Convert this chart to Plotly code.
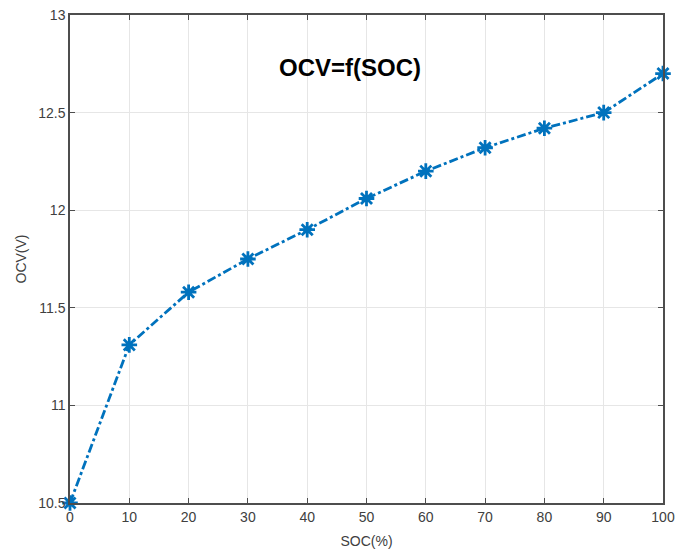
import plotly.graph_objects as go

soc = [0, 10, 20, 30, 40, 50, 60, 70, 80, 90, 100]
ocv = [10.5, 11.31, 11.58, 11.75, 11.90, 12.06, 12.20, 12.32, 12.42, 12.50, 12.70]
x_ticks = [0, 10, 20, 30, 40, 50, 60, 70, 80, 90, 100]
y_ticks = [10.5, 11, 11.5, 12, 12.5, 13]
y_labels = ["10.5", "11", "11.5", "12", "12.5", "13"]

blue = "#0072BD"
fig = go.Figure()
fig.add_trace(go.Scatter(
    x=soc, y=ocv, mode="lines+markers",
    line=dict(color=blue, width=2.8, dash="dashdot"),
    marker=dict(symbol="asterisk-open", size=13, color=blue, line=dict(color=blue, width=2.8)),
    cliponaxis=False, showlegend=False))

axis_common = dict(
    showline=True, mirror="ticks", linecolor="#4d4d4d", linewidth=1.5,
    ticks="inside", ticklen=5, tickcolor="#4d4d4d", tickwidth=1,
    showgrid=True, gridcolor="#e6e6e6", gridwidth=1, zeroline=False,
    automargin=False,
    tickfont=dict(family="Arial, Liberation Sans", size=14, color="#404040"),
)
fig.update_xaxes(range=[0, 100], tickvals=x_ticks,
                 title=dict(text="SOC(%)", font=dict(family="Arial, Liberation Sans", size=14, color="#404040"), standoff=13),
                 **axis_common)
fig.update_yaxes(range=[10.5, 13], tickvals=y_ticks, ticktext=y_labels,
                 title=dict(text="OCV(V)", font=dict(family="Arial, Liberation Sans", size=14, color="#404040"), standoff=8),
                 **axis_common)

fig.add_annotation(x=0.472, y=0.925, xref="paper", yref="paper", text="<b>OCV=f(SOC)</b>",
                   showarrow=False, font=dict(family="Arial, Liberation Sans", size=24, color="black"))

fig.update_layout(width=683, height=552, margin=dict(l=70, r=20, t=15, b=49),
                  plot_bgcolor="white", paper_bgcolor="white")
fig.write_html("out.html")
